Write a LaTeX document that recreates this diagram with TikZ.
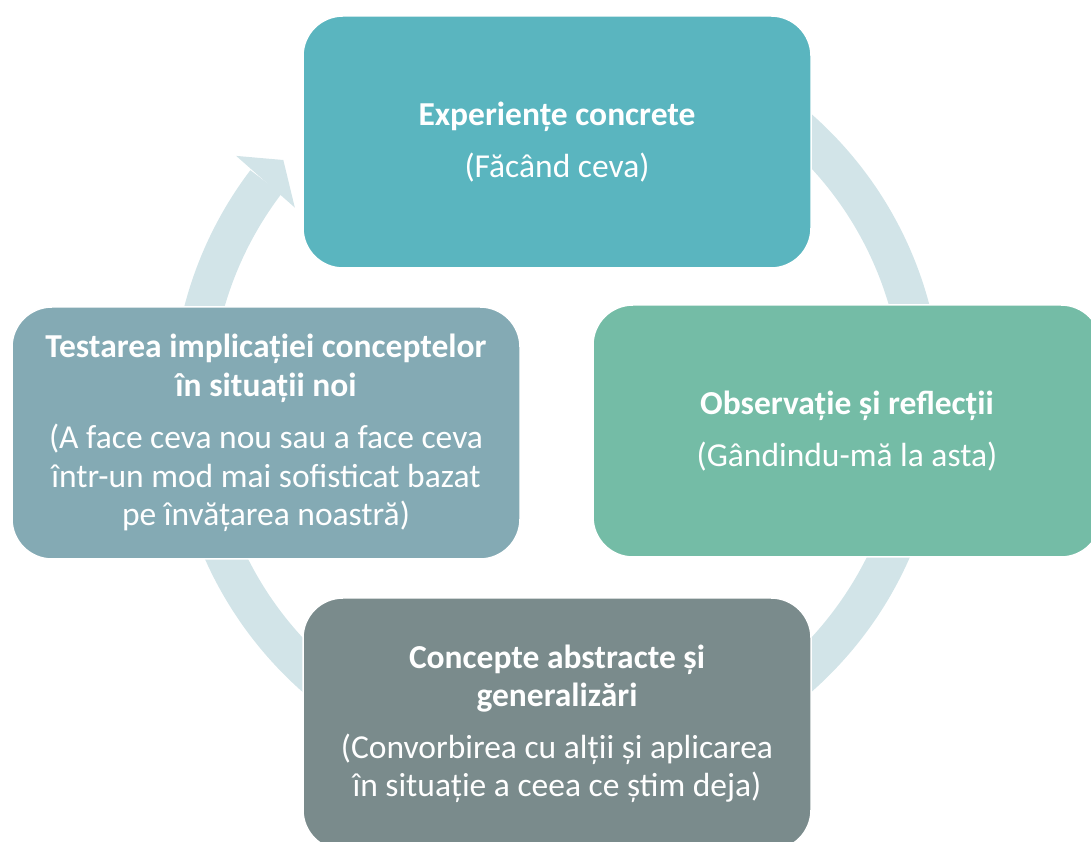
\documentclass[tikz,border=0pt]{standalone}
\usepackage{fontspec}
\setmainfont{Carlito}
\definecolor{ringc}{HTML}{D2E4E8}
\definecolor{topc}{HTML}{5AB5BF}
\definecolor{rightc}{HTML}{74BCA6}
\definecolor{leftc}{HTML}{84AAB4}
\definecolor{botc}{HTML}{7A8B8C}
\begin{document}
\begin{tikzpicture}[x=1pt,y=1pt,
  box/.style={rounded corners=40pt, draw=white, line width=1.5pt,
    minimum width=508pt, minimum height=252pt, text=white, align=center,
    font=\fontsize{33.5}{38.5}\selectfont, inner sep=0pt}]
\useasboundingbox (0,0) rectangle (1091,842);
\clip (0,0) rectangle (1091,842);
% cycle ring with arrow head
\begin{scope}[shift={(557,439)}]
  \fill[ringc] (90:385) arc[start angle=90,end angle=-217.2,radius=385]
    -- (-217.2:346) arc[start angle=-217.2,end angle=90,radius=346] -- cycle;
  \fill[ringc] (142.4:405) -- (138.4:366) -- (143.3:327) -- cycle;
\end{scope}
\node[box, fill=topc] (exp) at (557,700)
  {\textbf{Experiențe concrete}\\[13pt](Făcând ceva)};
\node[box, fill=rightc] (obs) at (847,411)
  {\textbf{Observație și reflecții}\\[13pt](Gândindu-mă la asta)};
\node[box, fill=botc] (con) at (557,118)
  {\textbf{Concepte abstracte și}\\\textbf{generalizări}\\[13pt](Convorbirea cu alții și aplicarea\\în situație a ceea ce știm deja)};
\node[box, fill=leftc] (tes) at (266,409)
  {\textbf{Testarea implicației conceptelor}\\\textbf{în situații noi}\\[14pt](A face ceva nou sau a face ceva\\într-un mod mai sofisticat bazat\\pe învățarea noastră)};
\end{tikzpicture}
\end{document}
